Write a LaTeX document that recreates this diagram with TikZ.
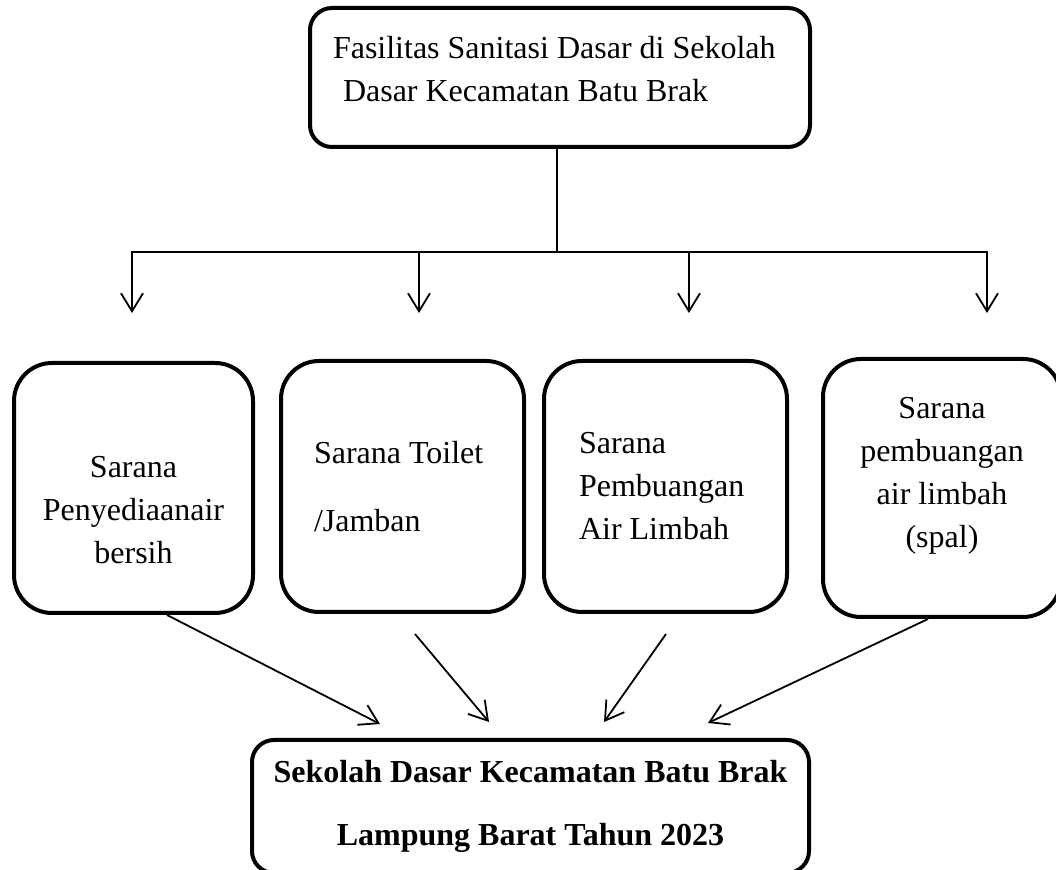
\documentclass[tikz,border=0pt]{standalone}
\usepackage{fontspec}
\setmainfont{Liberation Serif}
\usepackage{tikz}
\usetikzlibrary{arrows.meta,calc}
\tikzset{SAN style/.style={>={Straight Barb[length=9pt,width=11pt]},every node/.style={font=\fontsize{16}{21.5}\selectfont}}}

\begin{document}
\begin{tikzpicture}[x=0.5pt,y=-0.5pt,SAN style]
	\tikzstyle{kotak}=[draw,line width=2pt,rounded corners=19pt,inner sep=0pt,
	minimum width=121.5pt,minimum height=125.5pt]
	\tikzstyle{garis}=[line width=0.9pt]
	%	\tikzstyle{kotak kiri}=[kotak,align=flush left]

	\useasboundingbox (0,0) rectangle (1056,870);

	\node[draw,line width=2pt,rounded corners=11pt,minimum width=250pt,
	minimum height=69.5pt,inner xsep=11.5pt,inner ysep=0pt,text width=227pt,
	align=flush left] (fas) at (560,77.5)
	{Fasilitas Sanitasi Dasar di Sekolah\\\hspace*{5pt}Dasar Kecamatan Batu Brak\rule[-8.5pt]{0pt}{8.5pt}};

	\node[kotak,minimum width=119.5pt,minimum height=125pt,align=center] (air) at (133.5,488)
	{\rule{0pt}{32.8pt}Sarana\\Penyediaanair\\bersih};
	\node[kotak,inner xsep=16.5pt,text width=88.5pt,align=flush left] (toilet) at (402.5,486.5)
	{Sarana Toilet\\[12.5pt]/Jamban};
	\node[kotak,inner xsep=17.5pt,text width=86.5pt,align=flush left] (limbah) at (665.5,486.5)
	{Sarana\\Pembuangan\\Air Limbah};
	\node[kotak,minimum width=119pt,minimum height=129pt,align=center] (spal) at (942,488)
	{Sarana\\pembuangan\\air limbah\\(spal)\rule[-15.5pt]{0pt}{15.5pt}};

	\node[draw,line width=2pt,rounded corners=11pt,minimum width=278.5pt,
	minimum height=66.5pt,inner sep=0pt,align=center,
	font=\fontsize{16}{21.5}\selectfont\bfseries] (sd) at (530.5,806.5)
	{Sekolah Dasar Kecamatan Batu Brak\\[10pt]Lampung Barat Tahun 2023};

	\coordinate (cabang) at (557,252);
	\coordinate (k1) at (132,252);
	\coordinate (k2) at (419,252);
	\coordinate (k3) at (689,252);
	\coordinate (k4) at (987,252);
	\coordinate (u1) at (132,313);
	\coordinate (u2) at (419,313);
	\coordinate (u3) at (689,313);
	\coordinate (u4) at (987,313);

	\draw[garis] ([xshift=-1.5pt]fas.south) -- (cabang);
	\draw[garis,<->] (u1) -- (k1) -- (k4) -- (u4);
	\path[garis,->]
	(k2) edge (u2)
	(k3) edge (u3)
	;
	\path[garis,->]
	([xshift=16.75pt]air.south) edge ([xshift=-75.25pt,yshift=7pt]sd.north)
	([xshift=6.25pt,yshift=-10pt]toilet.south) edge ([xshift=-20.75pt,yshift=8pt]sd.north)
	([xshift=0.25pt,yshift=-10pt]limbah.south) edge ([xshift=36.75pt,yshift=8pt]sd.north)
	([xshift=-7pt]spal.south) edge ([xshift=88.75pt,yshift=7.5pt]sd.north)
	;
\end{tikzpicture}
\end{document}
